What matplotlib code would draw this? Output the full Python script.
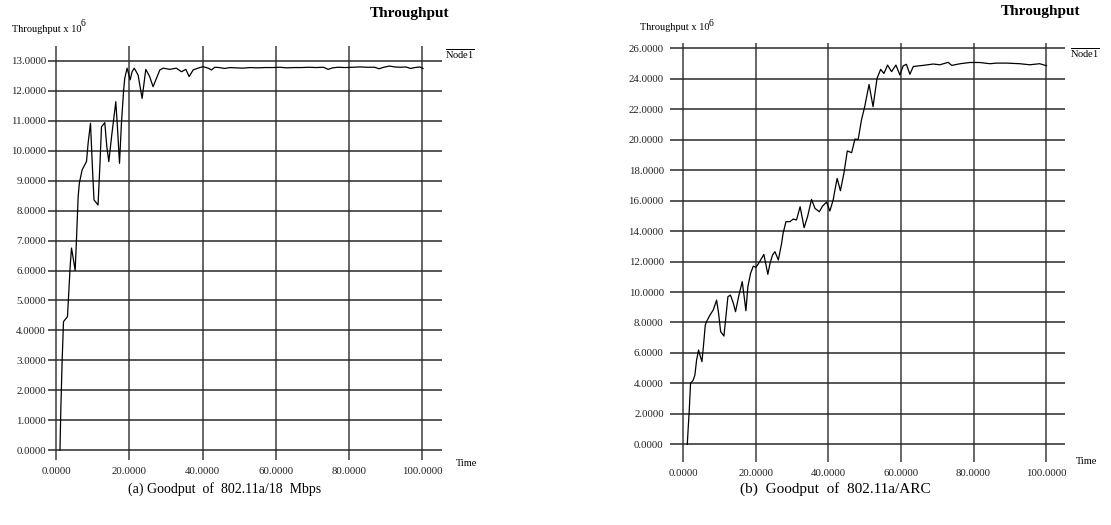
import matplotlib
matplotlib.use("Agg")
import matplotlib.pyplot as plt

plt.rcParams['font.family'] = ['Liberation Serif', 'DejaVu Serif']
plt.rcParams['mathtext.fontset'] = 'custom'
plt.rcParams['mathtext.rm'] = 'Liberation Serif'
plt.rcParams['mathtext.it'] = 'Liberation Serif:italic'

# (a) 802.11a/18 Mbps, throughput x 10^6 vs time
t_a = [1.0, 1.23, 1.6, 1.96, 3.05, 3.4, 3.78, 4.15, 4.7, 5.15, 5.5, 5.97, 6.3, 7.05,
       8.25, 8.7, 9.34, 9.9, 10.3, 11.4, 11.9, 12.35, 13.25, 13.8, 14.35, 15.1, 16.26,
       16.7, 17.27, 17.8, 18.4, 18.7, 19.35, 20.2, 20.7, 21.3, 22.35, 23.45, 24.45,
       25.5, 26.45, 27.2, 28.3, 29.2, 31.0, 32.8, 34.2, 35.4, 36.3, 37.4, 38.7, 40.1,
       41.5, 42.4, 43.3, 44.5, 46, 47.5, 49, 51, 53, 55, 57, 59, 61, 63, 65, 67, 69,
       71, 73, 74.3, 75.5, 77, 79, 81, 83, 85, 87, 88.2, 89.5, 91, 92.5, 94, 95.5,
       96.8, 98, 99.3, 100.2]
thr_a = [0.0, 1.34, 3.0, 4.29, 4.46, 5.25, 6.13, 6.75, 6.35, 6.0, 7.0, 8.47, 8.92, 9.36,
         9.64, 10.26, 10.92, 9.36, 8.36, 8.19, 9.47, 10.8, 10.94, 10.14, 9.64, 10.47,
         11.64, 10.8, 9.58, 10.92, 12.03, 12.42, 12.76, 12.37, 12.64, 12.76, 12.53,
         11.75, 12.72, 12.48, 12.14, 12.37, 12.70, 12.76, 12.72, 12.76, 12.64, 12.72,
         12.48, 12.70, 12.76, 12.81, 12.76, 12.70, 12.79, 12.78, 12.75, 12.78, 12.77,
         12.76, 12.78, 12.77, 12.78, 12.78, 12.79, 12.77, 12.78, 12.78, 12.79, 12.78,
         12.79, 12.72, 12.77, 12.79, 12.78, 12.79, 12.80, 12.79, 12.79, 12.74, 12.79,
         12.83, 12.80, 12.79, 12.80, 12.75, 12.78, 12.80, 12.75]

# (b) 802.11a/ARC
t_b = [1.1, 1.38, 1.65, 2.0, 2.75, 3.2, 3.67, 4.22, 4.6, 5.14, 5.5, 6.06, 6.4, 7.35,
       8.26, 9.18, 9.73, 10.3, 11.2, 11.75, 12.3, 13.0, 13.8, 14.4, 15.24, 16.25, 16.9,
       17.26, 17.8, 18.55, 19.3, 20.0, 20.9, 22.2, 22.8, 23.3, 23.9, 24.6, 25.25, 26.2,
       27.1, 27.5, 28.3, 29.4, 30.3, 31.2, 32.2, 32.9, 33.3, 34.25, 35.35, 36.3, 37.5,
       38.4, 39.5, 40.4, 41.3, 41.8, 42.4, 43.3, 44.26, 45.2, 46.4, 47.3, 48.2, 49.1,
       50.0, 51.2, 52.3, 53.4, 54.4, 55.3, 56.3, 57.4, 58.6, 59.7, 60.6, 61.5, 62.45,
       63.4, 66.1, 68.9, 70.7, 73.0, 74.0, 76.3, 79.0, 81.7, 84.5, 86.3, 89.0, 92.7,
       95.5, 98.2, 100.1]
thr_b = [0.0, 1.16, 2.25, 4.0, 4.22, 4.55, 5.54, 6.19, 5.86, 5.43, 6.3, 7.83, 8.05, 8.49,
         8.82, 9.47, 8.6, 7.4, 7.11, 8.38, 9.69, 9.8, 9.26, 8.71, 9.69, 10.68, 9.47,
         8.77, 10.35, 11.23, 11.7, 11.62, 11.93, 12.47, 11.77, 11.16, 11.88, 12.43,
         12.65, 12.1, 13.2, 13.85, 14.62, 14.62, 14.79, 14.73, 15.6, 14.73, 14.22,
         14.95, 16.08, 15.49, 15.27, 15.65, 15.9, 15.32, 16.04, 16.7, 17.46, 16.65,
         17.79, 19.26, 19.15, 20.04, 20.02, 21.29, 22.17, 23.63, 22.17, 24.03, 24.62,
         24.35, 24.9, 24.47, 24.9, 24.25, 24.85, 24.95, 24.3, 24.81, 24.88, 24.97,
         24.92, 25.08, 24.88, 24.99, 25.07, 25.07, 24.99, 25.03, 25.03, 24.99, 24.92,
         24.99, 24.86]

xticks = [0, 20, 40, 60, 80, 100]
yticks_a = [0, 1, 2, 3, 4, 5, 6, 7, 8, 9, 10, 11, 12, 13]
yticks_b = [0, 2, 4, 6, 8, 10, 12, 14, 16, 18, 20, 22, 24, 26]

W, H = 1111, 525
fig = plt.figure(figsize=(W / 100, H / 100), dpi=100)


def px_text(x, y, s, **kw):
    fig.text(x / W, 1 - y / H, s, **kw)


def make_panel(rect, t, thr, yticks, xlim, ylim, pad):
    ax = fig.add_axes(rect)
    ax.plot(t, thr, color='black', linewidth=0.9)
    ax.set_xlim(*xlim)
    ax.set_ylim(*ylim)
    ax.set_xticks(xticks)
    ax.set_yticks(yticks)
    ax.set_xticklabels(['%.4f' % v for v in xticks])
    ax.set_yticklabels(['%.4f' % v for v in yticks])
    ax.tick_params(length=0, labelsize=7.8, colors='#222222')
    ax.tick_params(axis='y', pad=pad)
    ax.tick_params(axis='x', pad=5)
    ax.grid(axis='y', color='#2a2a2a', linewidth=1.1)
    ax.grid(axis='x', color='#666666', linewidth=1.4)
    ax.set_axisbelow(True)
    for sp in ax.spines.values():
        sp.set_visible(False)
    return ax


def ylabel_text(x, y):
    # "Throughput x 10" with a raised 6
    px_text(x, y, 'Throughput x 10', fontsize=7.5, ha='left', va='center')
    px_text(x + 69, y - 5, '6', fontsize=7, ha='left', va='center')


# left panel
make_panel([48 / W, 1 - 460 / H, 394 / W, 414 / H], t_a, thr_a, yticks_a,
           (-2.27, 105.4), (-0.33, 13.5), 1.5)
px_text(449, 13, 'Throughput', fontsize=11, fontweight='bold', ha='right', va='center')
ylabel_text(12, 29)
px_text(445, 47, r'$\overline{\mathrm{Node1}}$', fontsize=7.5, ha='left', va='top')
px_text(456, 464, 'Time', fontsize=7.5, ha='left', va='center')
px_text(225, 489, '(a) Goodput  of  802.11a/18  Mbps', fontsize=10, ha='center', va='center')

# right panel
make_panel([670 / W, 1 - 462 / H, 395 / W, 419 / H], t_b, thr_b, yticks_b,
           (-3.66, 105.2), (-1.16, 26.35), 4.5)
px_text(1080, 11, 'Throughput', fontsize=11, fontweight='bold', ha='right', va='center')
ylabel_text(640, 28)
px_text(1070, 46, r'$\overline{\mathrm{Node1}}$', fontsize=7.5, ha='left', va='top')
px_text(1076, 462, 'Time', fontsize=7.5, ha='left', va='center')
px_text(835, 489, '(b)  Goodput  of  802.11a/ARC', fontsize=11, ha='center', va='center')

fig.savefig('out.png', dpi=100)
